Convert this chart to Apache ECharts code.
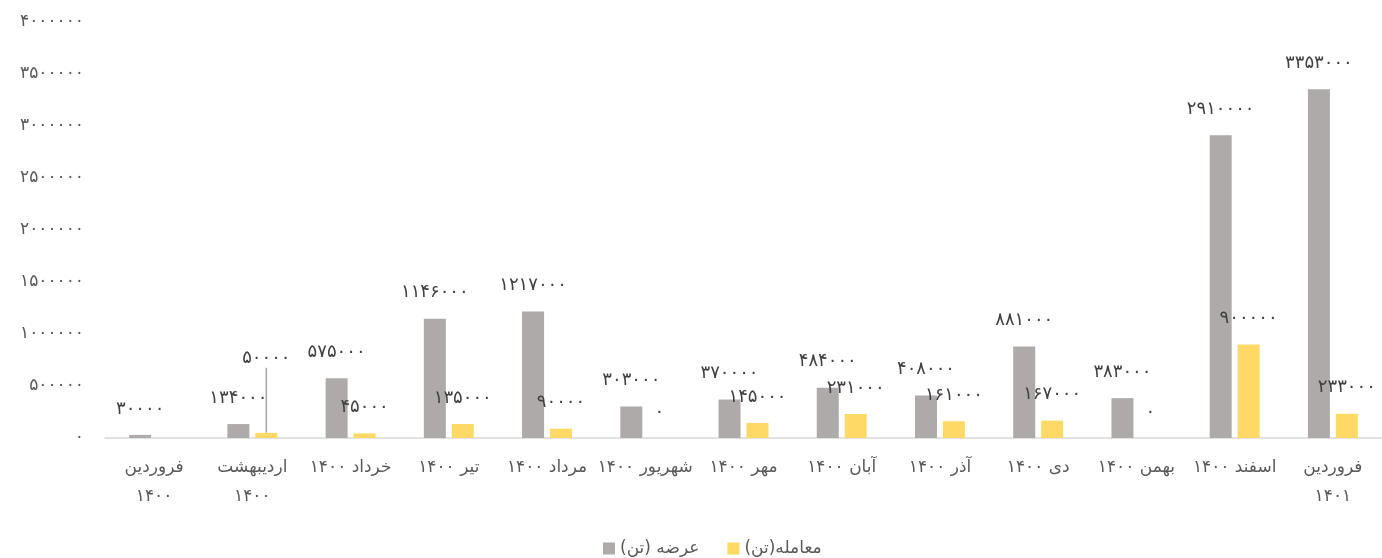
<!DOCTYPE html>
<html>
<head>
<meta charset="utf-8">
<script src="https://cdn.jsdelivr.net/npm/echarts@6/dist/echarts.min.js"></script>
<style>
  html, body { margin: 0; padding: 0; background: #fff; }
  #myChart { width: 1382px; height: 558px; }
</style>
</head>
<body>
<div id="myChart"></div>
<script>
// ماه ها
var categories = [
  'فروردین\n۱۴۰۰', 'اردیبهشت\n۱۴۰۰', 'خرداد ۱۴۰۰', 'تیر ۱۴۰۰', 'مرداد ۱۴۰۰',
  'شهریور ۱۴۰۰', 'مهر ۱۴۰۰', 'آبان ۱۴۰۰', 'آذر ۱۴۰۰', 'دی ۱۴۰۰',
  'بهمن ۱۴۰۰', 'اسفند ۱۴۰۰', 'فروردین\n۱۴۰۱'
]
// عرضه (تن)
var supplyValues = [30000, 134000, 575000, 1146000, 1217000, 303000, 370000, 484000, 408000, 881000, 383000, 2910000, 3353000]
// معامله(تن)
var tradeValues = [null, 50000, 45000, 135000, 90000, 0, 145000, 231000, 161000, 167000, 0, 900000, 233000]
var yTicks = [0, 500000, 1000000, 1500000, 2000000, 2500000, 3000000, 3500000, 4000000]

var fa = '۰۱۲۳۴۵۶۷۸۹'
function toFa (v) {
  return String(v).replace(/[0-9]/g, function (d) { return fa[+d] })
}
var font = "'DejaVu Sans', sans-serif"

// فقط برچسب اردیبهشت خط راهنما دارد
var tradeData = tradeValues.map(function (v, i) {
  if (i === 1) {
    return { value: v, labelLine: { show: true, lineStyle: { color: '#a6a6a6', width: 1.5 } } }
  }
  return v
})

var chart = echarts.init(document.getElementById('myChart'))
chart.setOption({
  animation: false,
  textStyle: { fontFamily: font },
  grid: { left: 105, right: 0, top: 22, bottom: 120 },
  legend: {
    bottom: -4,
    left: 598,
    itemWidth: 12,
    itemHeight: 12,
    itemGap: 28,
    icon: 'rect',
    textStyle: { color: '#595959', fontSize: 17, fontFamily: font },
    data: ['عرضه (تن)', 'معامله(تن)']
  },
  xAxis: {
    type: 'category',
    data: categories,
    axisLine: { lineStyle: { color: '#d9d9d9', width: 1.5 } },
    axisTick: { show: false },
    axisLabel: { color: '#595959', fontSize: 17, margin: 15, lineHeight: 29, interval: 0 }
  },
  yAxis: {
    type: 'value',
    min: yTicks[0],
    max: yTicks[yTicks.length - 1],
    interval: yTicks[1] - yTicks[0],
    splitLine: { show: false },
    axisLine: { show: false },
    axisLabel: {
      color: '#595959',
      fontSize: 17,
      margin: 21,
      formatter: function (v) { return toFa(v) }
    }
  },
  series: [
    {
      name: 'عرضه (تن)',
      type: 'bar',
      barWidth: 22,
      barGap: '27%',
      itemStyle: { color: '#aeaaaa' },
      label: {
        show: true,
        position: 'top',
        distance: 17,
        color: '#404040',
        fontSize: 18,
        formatter: function (p) { return toFa(p.value) }
      },
      data: supplyValues
    },
    {
      name: 'معامله(تن)',
      type: 'bar',
      barWidth: 22,
      itemStyle: { color: '#ffd966' },
      label: {
        show: true,
        position: 'top',
        distance: 17,
        color: '#404040',
        fontSize: 18,
        formatter: function (p) { return p.value == null ? '' : toFa(p.value) }
      },
      labelLine: { show: false },
      labelLayout: function (p) {
        if (p.dataIndex === 1) return { dy: -48 }
        return {}
      },
      data: tradeData
    }
  ]
})
</script>
</body>
</html>
